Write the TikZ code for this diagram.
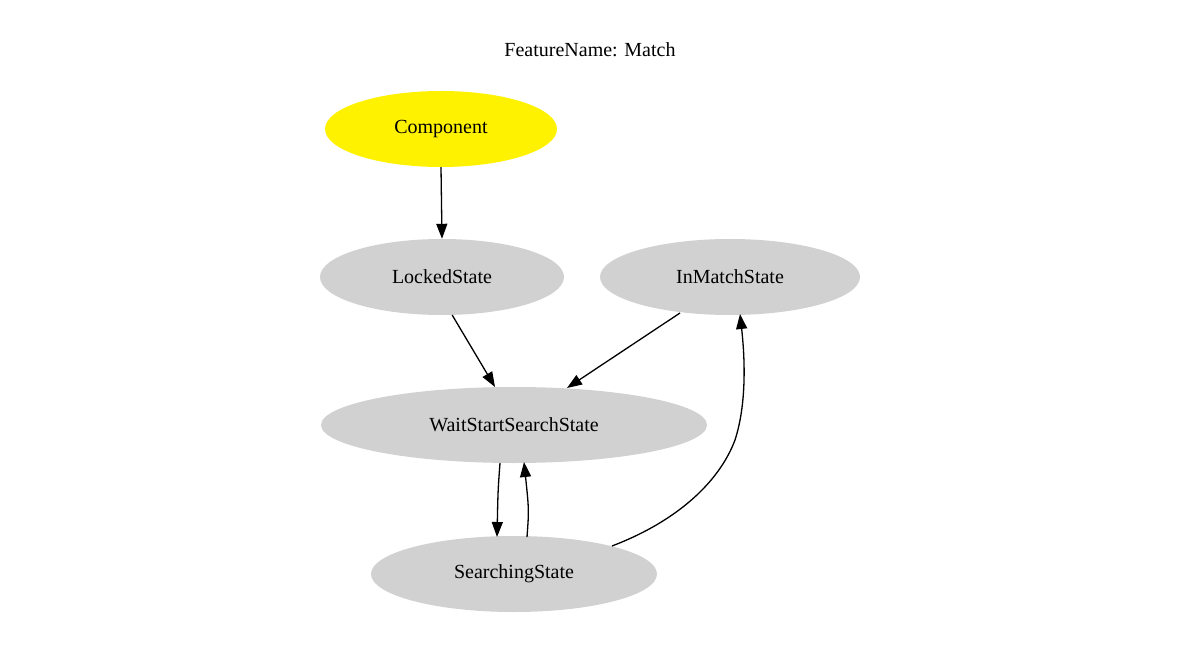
\documentclass[tikz,border=0pt]{standalone}
\usepackage{fontspec}
\setmainfont{Liberation Serif}
\usetikzlibrary{shapes.geometric,arrows.meta}
\begin{document}
\begin{tikzpicture}[x=1pt,y=-1pt,
  st/.style={ellipse,fill=black!18,inner sep=0pt,font=\fontsize{20pt}{24pt}\selectfont},
  ar/.style={-{Triangle[length=15pt,width=11pt]},line width=1.3pt}]
\useasboundingbox (0,0) rectangle (1196,652);
\node[font=\fontsize{20pt}{24pt}\selectfont] (title) at (590,50) {FeatureName: Match};
\node[st,fill=yellow,minimum width=232pt,minimum height=76pt] (comp) at (441,129) {Component};
\node[st,minimum width=244pt,minimum height=76pt] (lock) at (442,277) {LockedState};
\node[st,minimum width=260pt,minimum height=76pt] (inm) at (730,277) {InMatchState};
\node[st,minimum width=386pt,minimum height=76pt] (wait) at (514,425) {WaitStartSearchState};
\node[st,minimum width=286pt,minimum height=76pt] (srch) at (514,574) {SearchingState};
\draw[ar] (comp.south) -- (lock.north);
\draw[ar] (lock.-75) -- (495,387);
\coordinate (w1) at (567,388);
\draw[ar] (680,313) -- (w1);
\coordinate (s1) at (497,537);
\draw[ar] (500,463) .. controls (498,490) .. (s1);
\coordinate (w2) at (524,462);
\draw[ar] (527,537) .. controls (529,510) .. (w2);
\coordinate (i1) at (740,314);
\draw[ar] (612,546) .. controls (680,520) and (720,480) .. (735,440) .. controls (748,400) and (744,350) .. (i1);
\end{tikzpicture}
\end{document}
